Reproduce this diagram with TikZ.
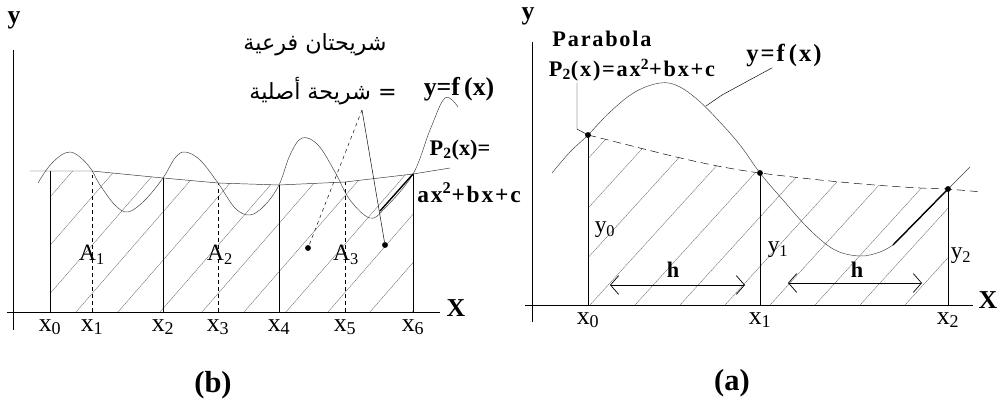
\documentclass[tikz,border=0pt]{standalone}
\usepackage{fontspec}
\setmainfont{Liberation Serif}
\newfontfamily\arabicfont[Script=Arabic]{DejaVu Sans}
\newfontfamily\widefont[LetterSpace=8]{Liberation Serif}
\TeXXeTstate=1
\usetikzlibrary{arrows.meta,positioning}

\begin{document}
\begin{tikzpicture}[
 x=0.03cm, y=-0.03cm,
 axis/.style={thin, black},
 ordinate/.style={semithick, black},
 midline/.style={semithick, black, dash pattern=on 7pt off 4pt},
 curve/.style={black!75, thin},
 chord/.style={black!80, thin},
 thickchord/.style={black, very thick},
 hatch/.style={black!70, very thin},
 lbl/.style={inner sep=1pt, font=\fontsize{22}{24}\selectfont},
 blbl/.style={inner sep=1pt, font=\fontsize{22}{24}\selectfont\bfseries},
 slbl/.style={inner sep=1pt, font=\fontsize{19}{21}\selectfont\bfseries},
 wlbl/.style={inner sep=1pt, font=\fontsize{19}{21}\widefont\bfseries},
 arab/.style={inner sep=1pt, font=\fontsize{19}{21}\arabicfont},
 pnt/.style={circle, fill=black, inner sep=0pt, minimum size=5pt},
 harr/.style={{Straight Barb[length=7pt,width=16pt]}-{Straight Barb[length=7pt,width=16pt]}, semithick},
 ptr/.style={thin, black},
]
\useasboundingbox (0,0) rectangle (1003,409);

% ---------------- (b) ----------------
\draw[axis] (13,50) -- (13,330);
\draw[axis] (7,312) -- (440,312);
\node[blbl] (yb) at (14,20) {y};
\node[blbl] (Xb) at (456,308) {X};

\foreach \n/\x/\t in {0/50/171,1/92/171,2/163/178,3/218/183,4/279/185,5/345/182,6/413/174}{
  \coordinate (b\n) at (\x,\t);
  \coordinate (bb\n) at (\x,312);
  \node[lbl, anchor=north] (xb\n) at (\x,318) {x\textsubscript{\n}};
}

% hatching
\begin{scope}
\clip (bb0) -- (b0) -- (b1) -- (b2) -- (b3) -- (b4) -- (b5) -- (b6) -- (bb6) -- cycle;
\foreach \s in {-260,-218,...,420}
  \draw[hatch] (\s,312) -- ++(300,-345);
\end{scope}

% ordinates
\foreach \n in {0,2,4,6} \draw[ordinate] (bb\n) -- (b\n);
\foreach \n in {1,3,5} \draw[ordinate, dashed] (bb\n) -- (b\n);

% parabola pieces
\draw[chord] (30,171) -- (b0) -- (b1) -- (b2) -- (b3) -- (b4) -- (b5) -- (b6) -- (450,168);

% f(x)
\draw[curve] plot[smooth, tension=0.6] coordinates {(38,183) (52,163) (70,152) (88,165) (100,185) (115,205) (128,212) (145,200) (163,178) (175,158) (185,152) (200,160) (218,183) (235,208) (250,215) (265,205) (279,185) (290,155) (302,138) (318,145) (335,172) (350,200) (370,218) (385,208) (413,174) (430,130) (445,98) (458,107)};
\draw[thickchord] (380,211) -- (b6);

\node[lbl, font=\fontsize{20}{22}\selectfont] (A1) at (92,255) {A\textsubscript{1}};
\node[lbl, font=\fontsize{20}{22}\selectfont] (A2) at (220,255) {A\textsubscript{2}};
\node[lbl, font=\fontsize{20}{22}\selectfont] (A3) at (346,255) {A\textsubscript{3}};

% pointers
\node[pnt] (d1) at (308,248) {};
\node[pnt] (d2) at (385,245) {};
\coordinate (apex) at (362,110);
\draw[ptr, dashed] (apex) -- (d1);
\draw[ptr] (apex) -- (d2);

\node[arab] (sub) at (315,45) {\beginR شريحتان فرعية\endR};
\node[arab] (orig) at (323,91) {\beginR = شريحة أصلية\endR};
\node[blbl] (fxb) at (459,89) {y=f\,(x)};
\node[slbl] (pb) at (460,150) {P\textsubscript{2}(x)=};
\node[slbl, font=\fontsize{20}{22}\widefont\bfseries, anchor=west] (pbx) at (416,193) {ax\textsuperscript{2}+bx+c};

\node[blbl, font=\fontsize{26}{28}\selectfont\bfseries] (capb) at (213,385) {(b)};

% ---------------- (a) ----------------
\draw[axis] (532,42) -- (532,322);
\draw[axis] (525,305) -- (973,305);
\node[blbl] (ya) at (528,16) {y};
\node[blbl] (Xa) at (988,300) {X};

\foreach \n/\x/\t in {0/588/135,1/760/173,2/948/189}{
  \coordinate (a\n) at (\x,\t);
  \coordinate (aa\n) at (\x,305);
  \node[lbl, anchor=north] (xa\n) at (\x,311) {x\textsubscript{\n}};
}

% hatching
\begin{scope}
\clip (aa0) -- (a0) .. controls (650,150) and (700,165) .. (a1) .. controls (830,182) and (900,188) .. (a2) -- (aa2) -- cycle;
\foreach \s in {320,365,...,960}
  \draw[hatch] (\s,305) -- ++(300,-330);
\end{scope}

\foreach \n in {0,1,2} \draw[ordinate] (aa\n) -- (a\n);

% parabola
\draw[midline, thin] (a0) .. controls (650,150) and (700,165) .. (a1) .. controls (830,182) and (900,188) .. (a2) -- (982,192);

% f(x)
\draw[curve] plot[smooth, tension=0.6] coordinates {(552,173) (570,152) (a0) (610,112) (635,92) (660,83) (678,86) (698,100) (718,120) (740,145) (a1) (783,200) (810,230) (835,250) (860,256) (880,252) (893,245)};
\draw[thickchord] (893,245) -- (a2);
\draw[curve] (a2) -- (970,167);

\foreach \n in {0,1,2} \node[pnt] at (a\n) {};

\node[lbl, font=\fontsize{20}{22}\selectfont] (y0) at (605,230) {y\textsubscript{0}};
\node[lbl, font=\fontsize{20}{22}\selectfont] (y1) at (778,250) {y\textsubscript{1}};
\node[lbl, font=\fontsize{20}{22}\selectfont] (y2) at (961,256) {y\textsubscript{2}};

% step width
\coordinate (h1l) at (610,285);
\coordinate (h1r) at (745,285);
\coordinate (h2l) at (788,283);
\coordinate (h2r) at (922,283);
\draw[harr] (h1l) -- (h1r);
\draw[harr] (h2l) -- (h2r);
\node[slbl] (h1) at (673,270) {h};
\node[slbl] (h2) at (857,270) {h};

% labels
\node[wlbl] (parab) at (602,39) {Parabola};
\node[wlbl] (par) at (632,70) {P\textsubscript{2}(x)=ax\textsuperscript{2}+bx+c};
\coordinate (pbend) at (577,129);
\draw[ptr] (pbend |- par.south) -- (pbend) -- (a0);
\node[blbl, font=\fontsize{21}{23}\widefont\bfseries] (fxa) at (784,55) {y=f\,(x)};
\coordinate (fkink) at (722,95);
\coordinate (fon) at (706,106);
\draw[ptr] ([xshift=-10]fxa.south) -- (fkink) -- (fon);

\node[blbl, font=\fontsize{26}{28}\selectfont\bfseries] (capa) at (732,383) {(a)};
\end{tikzpicture}
\end{document}
